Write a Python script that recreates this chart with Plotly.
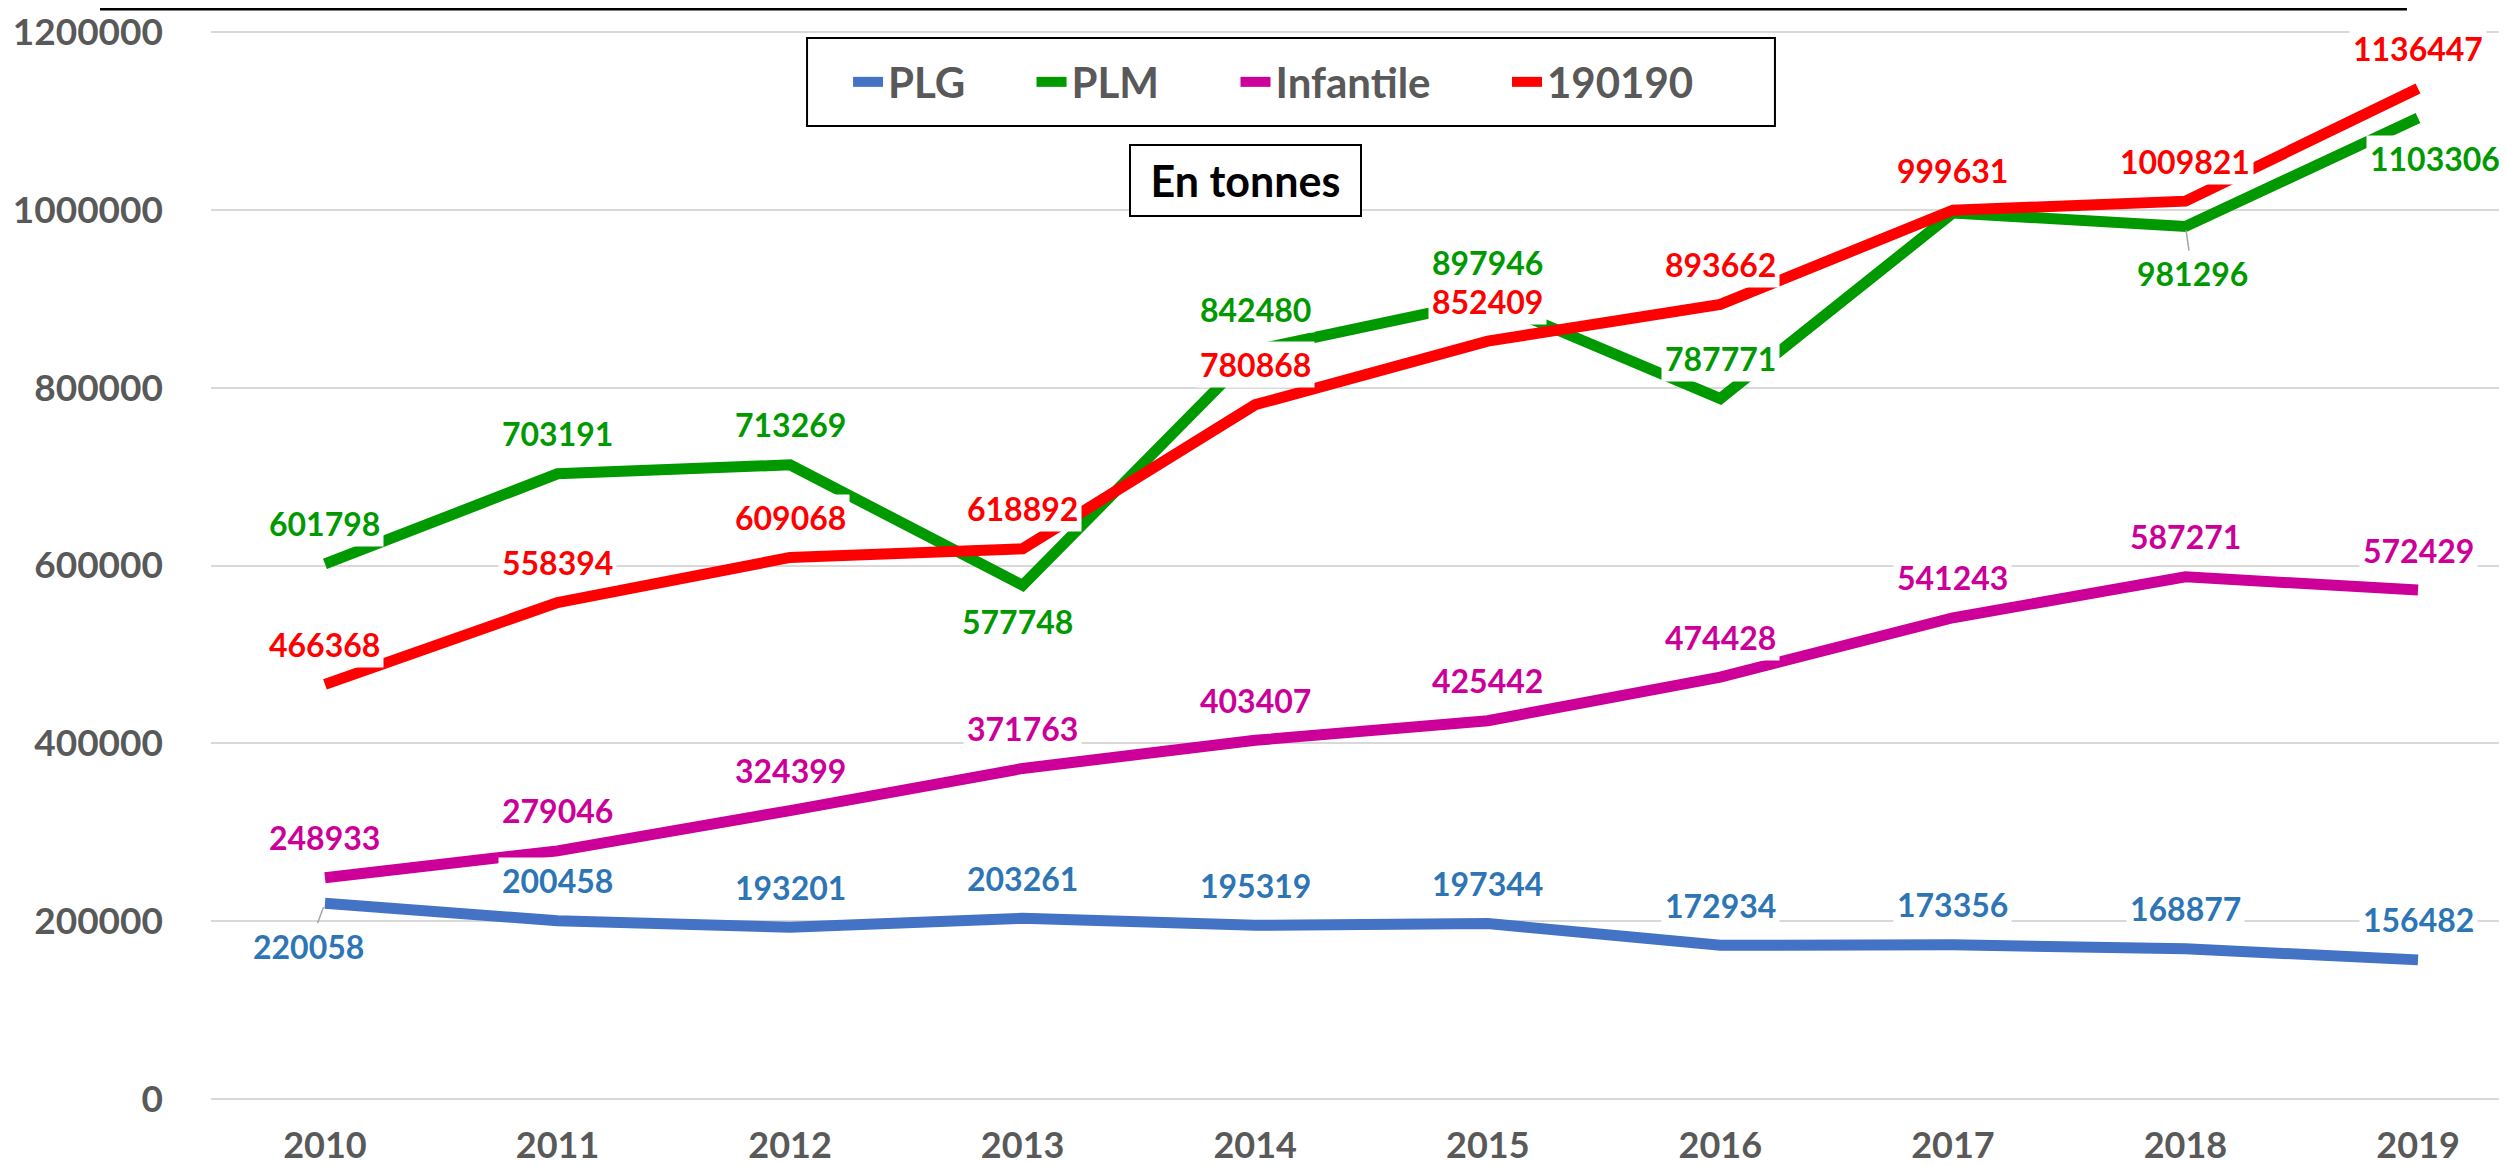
import plotly.graph_objects as go

years = [2010, 2011, 2012, 2013, 2014, 2015, 2016, 2017, 2018, 2019]
plg = [220058, 200458, 193201, 203261, 195319, 197344, 172934, 173356, 168877, 156482]
plm = [601798, 703191, 713269, 577748, 842480, 897946, 787771, 996500, 981296, 1103306]
infantile = [248933, 279046, 324399, 371763, 403407, 425442, 474428, 541243, 587271, 572429]
s190190 = [466368, 558394, 609068, 618892, 780868, 852409, 893662, 999631, 1009821, 1136447]
series_names = ["PLG", "PLM", "Infantile", "190190"]
y_ticks = [0, 200000, 400000, 600000, 800000, 1000000, 1200000]

# styling
line_colors = ["#4472C4", "#009900", "#CC0099", "#FF0000"]
label_colors = ["#2E75B6", "#009900", "#CC0099", "#FF0000"]
legend_pad = [6, 7, 7, 0]          # trailing spacing in legend entries
FONT = "Lato"
GRAY = "#595959"

# label placement (dx, dy in px; dy negative = above); None = hidden; "lead" -> leader line
ABOVE = (0, -40)
label_pos = {
    "PLG": [("lead", -16, 43)] + [ABOVE] * 9,
    "PLM": [ABOVE, ABOVE, ABOVE, (-5, 36), ABOVE, (0, -38), ABOVE, None, ("lead", 7, 47), (17, 40)],
    "Infantile": [ABOVE] * 10,
    "190190": [ABOVE] * 10,
}

data = [plg, plm, infantile, s190190]

fig = go.Figure()
for name, vals, col, pad in zip(series_names, data, line_colors, legend_pad):
    fig.add_trace(go.Scatter(
        x=years, y=vals, name=name + "\u00a0" * pad, mode="lines",
        line=dict(color=col, width=11),
        hoverinfo="skip",
    ))

annotations = []
for name, vals, lcol in zip(series_names, data, label_colors):
    for yr, v, pos in zip(years, vals, label_pos[name]):
        if pos is None:
            continue
        common = dict(
            x=yr, y=v, xref="x", yref="y", text=str(v),
            font=dict(family=FONT, size=32, color=lcol, weight="bold"),
            bgcolor="white", borderpad=3,
        )
        if pos[0] == "lead":
            _, dx, dy = pos
            annotations.append(dict(
                **common, showarrow=True, arrowhead=0, arrowwidth=1.5,
                arrowcolor="#A6A6A6", ax=dx, ay=dy, standoff=4,
            ))
        else:
            dx, dy = pos
            annotations.append(dict(
                **common, showarrow=False, xshift=dx, yshift=-dy,
            ))

annotations.append(dict(
    x=0.4488, y=0.8600, xref="paper", yref="paper",
    text="En tonnes", showarrow=False,
    font=dict(family=FONT, size=43, color="black", weight="bold"),
    bgcolor="white", bordercolor="black", borderwidth=2, borderpad=8,
    width=213, height=53, xanchor="center", yanchor="middle",
))

shapes = [
    # top border fragment
    dict(type="line", xref="paper", yref="paper",
         x0=-0.04818, x1=0.9531, y0=1.0206, y1=1.0206,
         line=dict(color="black", width=3)),
    # legend frame
    dict(type="rect", xref="paper", yref="paper",
         x0=0.2587, x1=0.6788, y0=0.9110, y1=0.9934,
         line=dict(color="black", width=2), fillcolor="white", layer="above"),
]

fig.update_layout(
    width=2507, height=1166,
    margin=dict(l=203, r=0, t=23, b=75),
    paper_bgcolor="white", plot_bgcolor="white",
    showlegend=True,
    legend=dict(
        orientation="h", x=0.2765, xanchor="left", y=0.9522, yanchor="middle",
        borderwidth=0, bgcolor="rgba(0,0,0,0)",
        font=dict(family=FONT, size=42, color=GRAY, weight="bold"),
        itemwidth=30,
    ),
    xaxis=dict(
        range=[2009.51, 2019.417], tickvals=years, ticktext=[str(y) for y in years],
        showgrid=False, zeroline=False, showline=False, ticks="",
        tickfont=dict(family=FONT, size=36, color=GRAY, weight="bold"),
        ticklabelstandoff=22,
    ),
    yaxis=dict(
        range=[0, 1201200], tickvals=y_ticks, ticktext=[str(t) for t in y_ticks],
        showgrid=True, gridcolor="#D9D9D9", gridwidth=2,
        zeroline=True, zerolinecolor="#D9D9D9", zerolinewidth=2,
        showline=False, ticks="",
        tickfont=dict(family=FONT, size=37, color=GRAY, weight="bold"),
        ticklabelstandoff=47,
    ),
    annotations=annotations,
    shapes=shapes,
)

fig.write_html("out.html")
